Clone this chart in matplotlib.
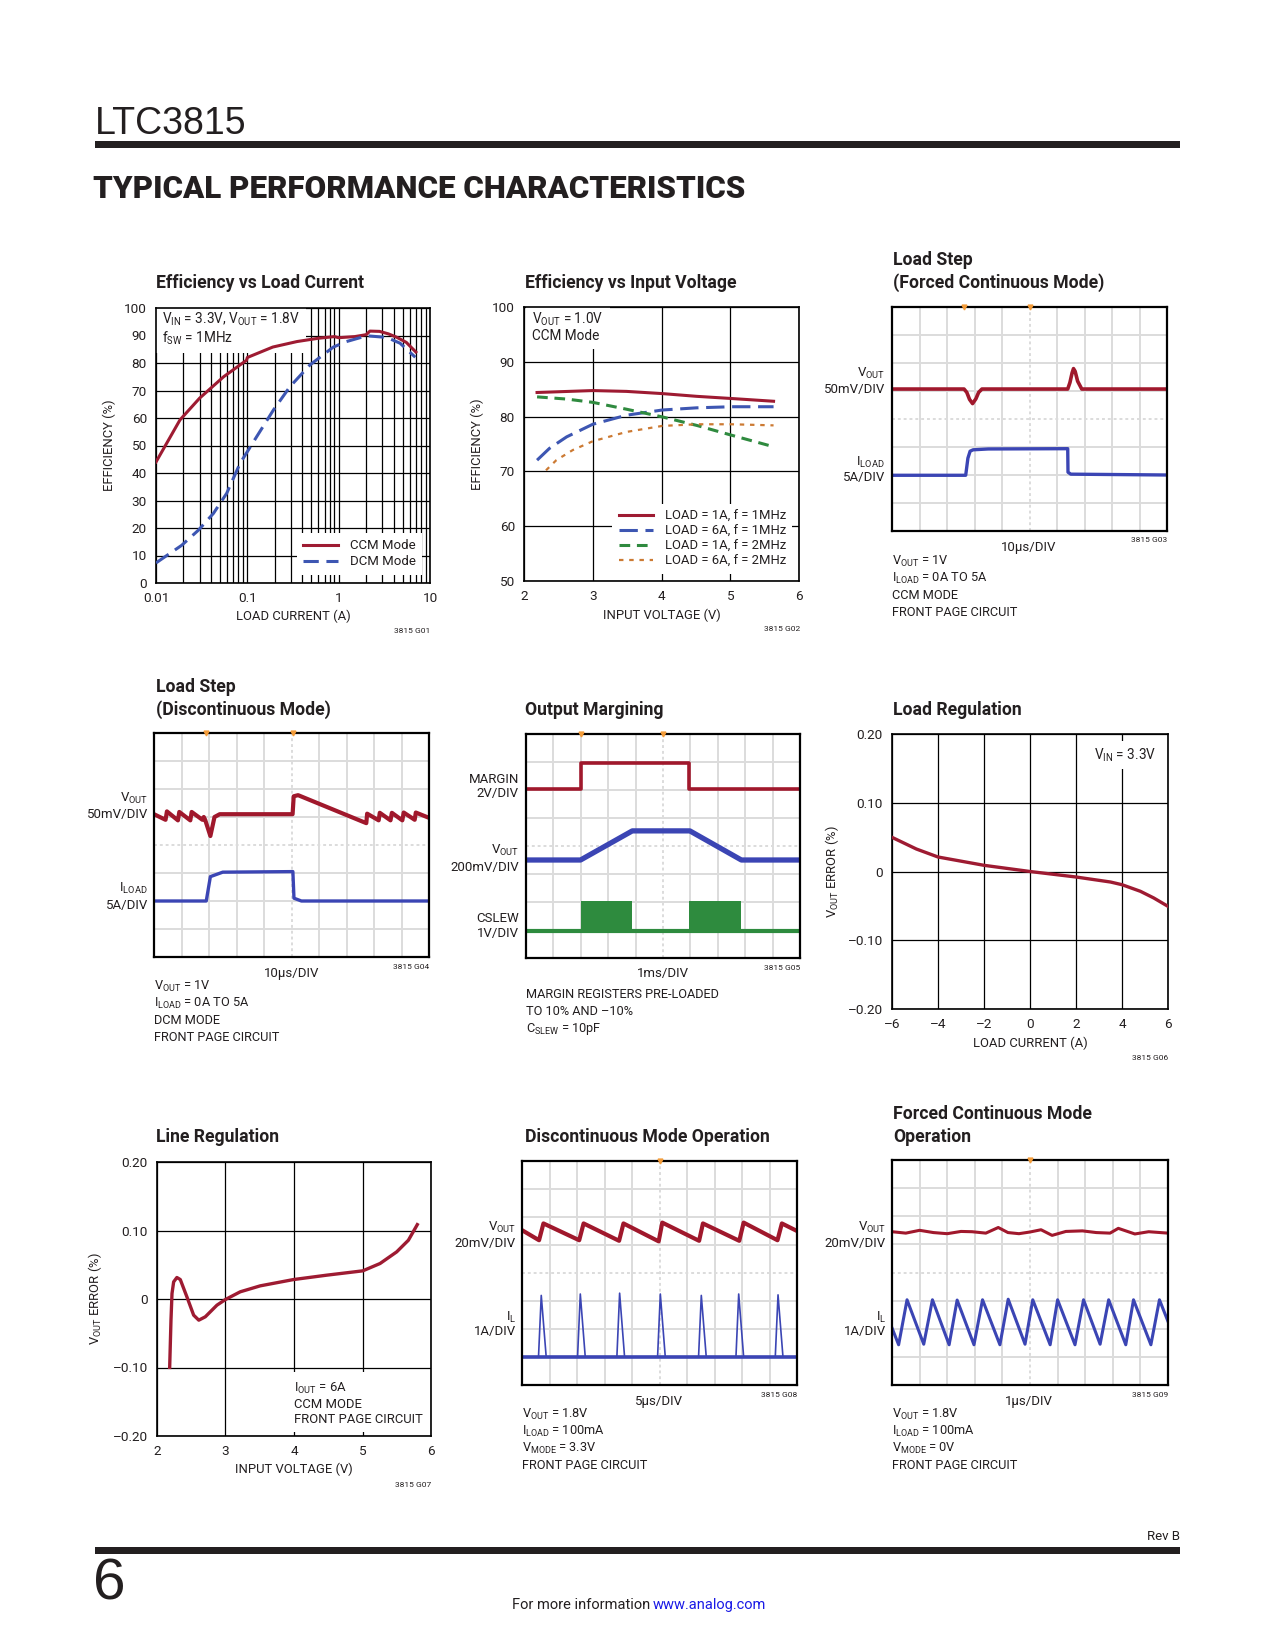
import numpy as np
import matplotlib
matplotlib.use('Agg')
import matplotlib.pyplot as plt
from matplotlib.patches import Rectangle
from matplotlib.ticker import LogLocator, NullFormatter

# ---------------- data ----------------
# G01 Efficiency vs Load Current
ccm_i = [0.01, 0.0183, 0.03, 0.055, 0.098, 0.1, 0.19, 0.35, 0.6, 0.9, 1.0, 1.5, 2.0, 2.2, 2.8, 3.5, 4.3, 5.5, 7.0]
ccm_eff = [44, 59.3, 67.2, 75.0, 81.0, 82.0, 85.8, 87.8, 89.0, 89.6, 89.2, 89.6, 90.3, 91.6, 91.5, 90.6, 89.4, 87.5, 84.0]
dcm_i = [0.01, 0.0191, 0.0291, 0.0425, 0.0594, 0.0832, 0.1265, 0.193, 0.293, 0.485, 0.875, 1.22, 2.03, 3.36, 4.7, 6.9]
dcm_eff = [7.3, 13.7, 19.2, 25.3, 32.6, 43.5, 53.2, 62.9, 71.4, 79.3, 85.8, 87.8, 89.9, 89.3, 87.2, 82.1]
g01_xticks = [0.01, 0.1, 1, 10]
g01_xlabels = ['0.01', '0.1', '1', '10']

# G02 Efficiency vs Input Voltage
vin_a = [2.19, 3.0, 3.49, 4.01, 4.51, 5.02, 5.63]
eff_1a_1m = [84.4, 84.75, 84.6, 84.2, 83.7, 83.3, 82.8]
vin_b = [2.19, 2.37, 2.62, 3.0, 3.49, 4.01, 4.51, 5.02, 5.63]
eff_6a_1m = [72.05, 74.2, 76.3, 78.6, 80.25, 81.2, 81.6, 81.8, 81.8]
vin_c = [2.19, 2.62, 3.0, 3.49, 4.01, 4.51, 5.02, 5.63]
eff_1a_2m = [83.6, 83.2, 82.6, 81.35, 79.95, 78.4, 76.6, 74.5]
vin_d = [2.32, 2.47, 2.71, 3.0, 3.49, 4.01, 4.51, 5.02, 5.63]
eff_6a_2m = [70.2, 72.05, 73.9, 75.5, 77.2, 78.3, 78.6, 78.6, 78.4]
g02_labels = ['LOAD = 1A, f = 1MHz', 'LOAD = 6A, f = 1MHz', 'LOAD = 1A, f = 2MHz', 'LOAD = 6A, f = 2MHz']

# G03 Load step, forced continuous (scope divisions)
g03_vout_t = [0, 2.62, 2.72, 2.82, 2.93, 3.05, 3.15, 3.27, 6.39, 6.47, 6.55, 6.6, 6.66, 6.75, 6.9, 10]
g03_vout_v = [5.07, 5.07, 4.95, 4.7, 4.55, 4.72, 4.95, 5.07, 5.07, 5.3, 5.65, 5.8, 5.7, 5.35, 5.07, 5.07]
g03_iload_t = [0, 2.68, 2.76, 2.84, 2.95, 3.5, 6.39, 6.40, 6.5, 10]
g03_iload_v = [1.99, 1.99, 2.6, 2.85, 2.9, 2.93, 2.94, 2.1, 2.03, 2.0]
g03_trig = [2.6, 5.0]

# G04 Load step, discontinuous
g04_vout_t = [0, 0.42, 0.47, 0.87, 0.92, 1.32, 1.37, 1.76, 1.81, 1.86, 2.05, 2.2, 2.39, 5.04, 5.08, 5.24,
              7.72, 7.75, 8.17, 8.21, 8.6, 8.65, 9.03, 9.08, 9.48, 9.52, 10]
g04_vout_v = [5.10, 4.90, 5.20, 4.88, 5.18, 4.88, 5.18, 4.9, 5.0, 4.9, 4.32, 5.0, 5.1, 5.1, 5.74, 5.78,
              4.78, 5.12, 4.88, 5.15, 4.88, 5.15, 4.88, 5.16, 4.9, 5.16, 4.97]
g04_iload_t = [0, 1.90, 2.05, 2.5, 5.05, 5.09, 5.36, 10]
g04_iload_v = [2.0, 2.0, 2.87, 3.03, 3.05, 2.1, 2.0, 2.0]
g04_trig = [1.88, 5.05]

# G05 Output margining
g05_margin_t = [0, 1.99, 1.99, 5.96, 5.96, 10]
g05_margin_v = [6.04, 6.04, 6.97, 6.97, 6.04, 6.04]
g05_vout_t = [0, 1.99, 3.88, 5.98, 7.86, 10]
g05_vout_v = [3.5, 3.5, 4.54, 4.54, 3.5, 3.5]
g05_cslew_t = [0, 1.99, 1.99, 3.88, 3.88, 5.96, 5.96, 7.86, 7.86, 10]
g05_cslew_v = [0.95, 0.95, 2.05, 2.05, 0.95, 0.95, 2.05, 2.05, 0.95, 0.95]
g05_trig = [1.99, 5.0]

# G06 Load regulation
g06_i = [-6, -4.94, -4.0, -2.0, 0, 2.0, 3.5, 4.0, 4.8, 5.38, 6.0]
g06_err = [0.0497, 0.0327, 0.0211, 0.009, 0.0, -0.008, -0.0153, -0.0192, -0.0288, -0.0385, -0.0507]

# G07 Line regulation
g07_v = [2.185, 2.204, 2.219, 2.243, 2.29, 2.34, 2.437, 2.535, 2.61, 2.705, 2.875, 3.0, 3.215, 3.507,
         3.993, 4.479, 5.004, 5.256, 5.499, 5.67, 5.80]
g07_err = [-0.0999, -0.031, 0.008, 0.025, 0.0314, 0.0284, 0.003, -0.0236, -0.0309, -0.026, -0.009, -0.0007,
           0.0105, 0.0192, 0.0284, 0.0348, 0.0411, 0.0518, 0.0688, 0.0858, 0.1086]
reg_yticks = [-0.2, -0.1, 0, 0.1, 0.2]
reg_ylabels = ['\u20130.20', '\u20130.10', '0', '0.10', '0.20']
g06_xticks = [-6, -4, -2, 0, 2, 4, 6]
g06_xlabels = ['\u20136', '\u20134', '\u20132', '0', '2', '4', '6']

# G08 Discontinuous mode operation
g08_vout_t = [0, 0.62, 0.78, 2.08, 2.24, 3.53, 3.69, 4.97, 5.1, 6.44, 6.58, 7.9, 8.06, 9.29, 9.45, 10]
g08_vout_v = [5.53, 5.17, 5.77, 5.17, 5.77, 5.15, 5.77, 5.13, 5.8, 5.15, 5.77, 5.15, 5.8, 5.17, 5.77, 5.5]
g08_il_t = [0, 0.6, 0.70, 0.88, 2.02, 2.12, 2.30, 3.45, 3.55, 3.73, 4.93, 5.03, 5.21, 6.42, 6.52, 6.70,
            7.78, 7.88, 8.06, 9.21, 9.31, 9.49, 10]
g08_il_v = [1.0, 1.0, 3.2, 1.0, 1.0, 3.25, 1.0, 1.0, 3.28, 1.0, 1.0, 3.25, 1.0, 1.0, 3.2, 1.0,
            1.0, 3.25, 1.0, 1.0, 3.22, 1.0, 1.0]
g08_trig = [5.0]

# G09 Forced continuous mode operation
g09_vout_t = [0, 0.5, 1.0, 1.5, 2.0, 2.5, 2.9, 3.4, 3.85, 4.2, 4.6, 5.0, 5.4, 5.8, 6.3, 6.9, 7.4, 7.9, 8.2, 8.8, 9.3, 10]
g09_vout_v = [5.45, 5.4, 5.5, 5.42, 5.38, 5.46, 5.45, 5.4, 5.6, 5.42, 5.38, 5.44, 5.52, 5.32, 5.46, 5.48,
              5.42, 5.4, 5.57, 5.37, 5.45, 5.4]
g09_il_t = [0, 0.24, 0.545, 1.15, 1.465, 2.07, 2.36, 2.97, 3.28, 3.91, 4.21, 4.82, 5.10, 5.73, 6.0, 6.63,
            6.94, 7.54, 7.85, 8.47, 8.75, 9.38, 9.69, 10]
g09_il_v = [2.03, 1.43, 3.03, 1.45, 3.03, 1.43, 3.02, 1.43, 3.03, 1.43, 3.05, 1.45, 3.03, 1.43, 3.03, 1.43,
            3.03, 1.45, 3.03, 1.43, 3.03, 1.43, 3.03, 2.26]
g09_trig = [5.0]

# ---------------- style ----------------
plt.rcParams['font.family'] = ['Roboto', 'DejaVu Sans']
plt.rcParams['mathtext.fontset'] = 'custom'
plt.rcParams['mathtext.rm'] = 'Roboto'
plt.rcParams['mathtext.it'] = 'Roboto:italic'
plt.rcParams['mathtext.bf'] = 'Roboto:bold'

TXT = '#231F20'
RED = '#9E1B32'
BLUE = '#3D56B2'
GREEN = '#2F8A3F'
ORANGE = '#CC7A33'
SRED = '#A0182C'
SBLUE = '#3B45B4'
SGREEN = '#2E8B3E'
TRIG = '#F39C3A'
GRIDG = '#DCDCDC'

TS = 12.7    # panel title size
NS = 9.2     # notes size
LS = 9.4     # axis label size
KS = 9.7     # tick label size
DS = 9.5     # scope channel labels
AS = 9.8     # in-plot annotation
GS = 6.0     # figure code

W, H = 1275, 1650
fig = plt.figure(figsize=(12.75, 16.5), dpi=100)
fig.patch.set_facecolor('white')


def T(x, y, s, **kw):
    kw.setdefault('color', TXT)
    return fig.text(x / W, 1 - y / H, s, **kw)


def AX(l, t, r, b):
    ax = fig.add_axes([l / W, 1 - b / H, (r - l) / W, (b - t) / H])
    ax._pxrect = (l, t, r, b)
    return ax


def AT(ax, x, y, s, **kw):
    l, t, r, b = ax._pxrect
    kw.setdefault('color', TXT)
    return ax.text((x - l) / (r - l), (b - y) / (b - t), s, transform=ax.transAxes, **kw)


def bar(x0, y0, x1, y1):
    fig.patches.append(Rectangle((x0 / W, 1 - y1 / H), (x1 - x0) / W, (y1 - y0) / H,
                                 transform=fig.transFigure, facecolor='#231F20', edgecolor='none'))


def graph_style(ax):
    ax.set_axisbelow(True)
    for s in ax.spines.values():
        s.set_color('black')
        s.set_linewidth(1.2)
    ax.tick_params(which='both', length=0, labelsize=KS, pad=6.5, colors=TXT)
    ax.grid(True, which='major', color='black', lw=0.9)


def scope_style(ax, trig):
    ax.set_xlim(0, 10)
    ax.set_ylim(0, 8)
    ax.set_xticks(range(1, 10))
    ax.set_yticks(range(1, 8))
    ax.tick_params(length=0, labelbottom=False, labelleft=False)
    ax.set_axisbelow(True)
    ax.grid(True, color=GRIDG, lw=1.4)
    ax.get_xgridlines()[4].set_linestyle((0, (1.5, 1.5)))
    ax.get_ygridlines()[3].set_linestyle((0, (1.5, 1.5)))
    for s in ax.spines.values():
        s.set_color('black')
        s.set_linewidth(1.6)
    ax.plot(trig, [8] * len(trig), ls='none', marker='v', ms=3.5, color=TRIG, clip_on=False, zorder=5)


def notes(x, y0, lines, dy=17.3):
    for k, s in enumerate(lines):
        T(x, y0 + k * dy, s, fontsize=NS, ha='left', va='center')


# ---------------- header / footer ----------------
T(95, 124, 'LTC3815', fontsize=27, family=['Liberation Sans', 'DejaVu Sans'], va='center', ha='left')
bar(95, 141, 1180, 148)
T(93, 189, 'TYPICAL PERFORMANCE CHARACTERISTICS', fontsize=22.5, weight='black', va='center', ha='left',
  color='#231F20')
T(1180, 1536, 'Rev B', fontsize=9.5, ha='right', va='center')
bar(95, 1547, 1180, 1554)
T(93, 1584, '6', fontsize=42, family=['Liberation Sans', 'DejaVu Sans'], ha='left', va='center')
T(650, 1605, 'For more information', fontsize=10.5, ha='right', va='center')
T(653, 1605, 'www.analog.com', fontsize=10.5, ha='left', va='center', color='#1A1AE6')

# ---------------- G01 ----------------
ax1 = AX(156, 308, 430, 583)
ax1.set_xscale('log')
ax1.set_xlim(0.01, 10)
ax1.set_ylim(0, 100)
ax1.xaxis.set_minor_locator(LogLocator(base=10, subs=np.arange(2, 10), numticks=30))
ax1.xaxis.set_minor_formatter(NullFormatter())
ax1.set_xticks(g01_xticks)
ax1.set_xticklabels(g01_xlabels)
ax1.set_yticks(range(0, 101, 10))
graph_style(ax1)
ax1.grid(True, which='minor', axis='x', color='black', lw=0.9)
ax1.plot(ccm_i, ccm_eff, color=RED, lw=2.2, label='CCM Mode', zorder=3)
ax1.plot(dcm_i, dcm_eff, color=BLUE, lw=2.2, dashes=(5, 2.5), label='DCM Mode', zorder=3)
AT(ax1, 162, 329, 'V$_{\\mathrm{IN}}$ = 3.3V, V$_{\\mathrm{OUT}}$ = 1.8V\nf$_{\\mathrm{SW}}$ = 1MHz',
   fontsize=AS, ha='left', va='center', linespacing=1.1, zorder=2,
   bbox=dict(facecolor='white', edgecolor='none', pad=4.5))
leg = ax1.legend(loc='lower right', fontsize=9.5, frameon=True, facecolor='white', edgecolor='none',
                 framealpha=1, fancybox=False, handlelength=2.6, handletextpad=0.9, labelspacing=0.25,
                 borderaxespad=0.6, borderpad=0.5)
for t in leg.get_texts():
    t.set_color(TXT)
T(156 + 274 / 2, 616, 'LOAD CURRENT (A)', fontsize=LS, ha='center', va='center')
T(109, 445, 'EFFICIENCY (%)', fontsize=LS, ha='center', va='center', rotation=90)
T(430, 631, '3815 G01', fontsize=GS, ha='right', va='center')
T(156, 283, 'Efficiency vs Load Current', fontsize=TS, weight='bold', ha='left', va='center')

# ---------------- G02 ----------------
ax2 = AX(524, 307, 799, 581)
ax2.set_xlim(2, 6)
ax2.set_ylim(50, 100)
ax2.set_xticks([2, 3, 4, 5, 6])
ax2.set_yticks([50, 60, 70, 80, 90, 100])
graph_style(ax2)
ax2.plot(vin_a, eff_1a_1m, color=RED, lw=2.2, label=g02_labels[0], zorder=3)
ax2.plot(vin_b, eff_6a_1m, color=BLUE, lw=2.2, dashes=(6, 2.5), label=g02_labels[1], zorder=3)
ax2.plot(vin_c, eff_1a_2m, color=GREEN, lw=2.2, dashes=(3.5, 2.2), label=g02_labels[2], zorder=3)
ax2.plot(vin_d, eff_6a_2m, color=ORANGE, lw=1.6, dashes=(2, 2.6), label=g02_labels[3], zorder=3)
AT(ax2, 532, 327, 'V$_{\\mathrm{OUT}}$ = 1.0V\nCCM Mode', fontsize=AS, ha='left', va='center',
   linespacing=1.05, zorder=2, bbox=dict(facecolor='white', edgecolor='none', pad=4.5))
leg = ax2.legend(loc='lower right', fontsize=9.4, frameon=True, facecolor='white', edgecolor='none',
                 framealpha=1, fancybox=False, handlelength=2.6, handletextpad=0.9, labelspacing=0.15,
                 borderaxespad=0.5, borderpad=0.5)
for t in leg.get_texts():
    t.set_color(TXT)
T(524 + 275 / 2, 615, 'INPUT VOLTAGE (V)', fontsize=LS, ha='center', va='center')
T(477, 444, 'EFFICIENCY (%)', fontsize=LS, ha='center', va='center', rotation=90)
T(800, 629, '3815 G02', fontsize=GS, ha='right', va='center')
T(525, 283, 'Efficiency vs Input Voltage', fontsize=TS, weight='bold', ha='left', va='center')

# ---------------- G03 ----------------
ax3 = AX(892, 307, 1167, 531)
scope_style(ax3, g03_trig)
ax3.plot(g03_vout_t, g03_vout_v, color=SRED, lw=2.6)
ax3.plot(g03_iload_t, g03_iload_v, color=SBLUE, lw=2.4)
T(893, 260, 'Load Step', fontsize=TS, weight='bold', ha='left', va='center')
T(893, 283, '(Forced Continuous Mode)', fontsize=TS, weight='bold', ha='left', va='center')
T(885, 373, 'V$_{\\mathrm{OUT}}$', fontsize=DS, ha='right', va='center')
T(885, 389, '50mV/DIV', fontsize=DS, ha='right', va='center')
T(885, 462, 'I$_{\\mathrm{LOAD}}$', fontsize=DS, ha='right', va='center')
T(885, 478, '5A/DIV', fontsize=DS, ha='right', va='center')
T(1029, 547, '10\u03bcs/DIV', fontsize=DS, ha='center', va='center')
T(1167, 540, '3815 G03', fontsize=GS, ha='right', va='center')
notes(892, 561, ['V$_{\\mathrm{OUT}}$ = 1V', 'I$_{\\mathrm{LOAD}}$ = 0A TO 5A', 'CCM MODE', 'FRONT PAGE CIRCUIT'])

# ---------------- G04 ----------------
ax4 = AX(154, 733, 429, 957)
scope_style(ax4, g04_trig)
ax4.plot(g04_vout_t, g04_vout_v, color=SRED, lw=3.0)
ax4.plot(g04_iload_t, g04_iload_v, color=SBLUE, lw=2.4)
T(156, 687, 'Load Step', fontsize=TS, weight='bold', ha='left', va='center')
T(156, 710, '(Discontinuous Mode)', fontsize=TS, weight='bold', ha='left', va='center')
T(148, 798, 'V$_{\\mathrm{OUT}}$', fontsize=DS, ha='right', va='center')
T(148, 815, '50mV/DIV', fontsize=DS, ha='right', va='center')
T(148, 888, 'I$_{\\mathrm{LOAD}}$', fontsize=DS, ha='right', va='center')
T(148, 905, '5A/DIV', fontsize=DS, ha='right', va='center')
T(292, 974, '10\u03bcs/DIV', fontsize=DS, ha='center', va='center')
T(429, 967, '3815 G04', fontsize=GS, ha='right', va='center')
notes(154, 986, ['V$_{\\mathrm{OUT}}$ = 1V', 'I$_{\\mathrm{LOAD}}$ = 0A TO 5A', 'DCM MODE', 'FRONT PAGE CIRCUIT'])

# ---------------- G05 ----------------
ax5 = AX(526, 734, 800, 958)
scope_style(ax5, g05_trig)
ax5.fill_between(g05_cslew_t, 0.95, g05_cslew_v, color=SGREEN, lw=0)
ax5.plot(g05_cslew_t, [0.95] * len(g05_cslew_t), color=SGREEN, lw=3.0)
ax5.plot(g05_margin_t, g05_margin_v, color=SRED, lw=2.6)
ax5.plot(g05_vout_t, g05_vout_v, color=SBLUE, lw=3.8)
T(525, 710, 'Output Margining', fontsize=TS, weight='bold', ha='left', va='center')
T(519, 779, 'MARGIN', fontsize=DS, ha='right', va='center')
T(519, 794, '2V/DIV', fontsize=DS, ha='right', va='center')
T(519, 850, 'V$_{\\mathrm{OUT}}$', fontsize=DS, ha='right', va='center')
T(519, 867, '200mV/DIV', fontsize=DS, ha='right', va='center')
T(519, 918, 'CSLEW', fontsize=DS, ha='right', va='center')
T(519, 934, '1V/DIV', fontsize=DS, ha='right', va='center')
T(663, 974, '1ms/DIV', fontsize=DS, ha='center', va='center')
T(800, 968, '3815 G05', fontsize=GS, ha='right', va='center')
notes(526, 994, ['MARGIN REGISTERS PRE-LOADED', 'TO 10% AND \u201310%', 'C$_{\\mathrm{SLEW}}$ = 10pF'])

# ---------------- G06 ----------------
ax6 = AX(892, 734, 1168, 1009)
ax6.set_xlim(-6, 6)
ax6.set_ylim(-0.2, 0.2)
ax6.set_xticks(g06_xticks)
ax6.set_xticklabels(g06_xlabels)
ax6.set_yticks(reg_yticks)
ax6.set_yticklabels(reg_ylabels)
graph_style(ax6)
ax6.plot(g06_i, g06_err, color=RED, lw=2.4, zorder=3)
AT(ax6, 1094, 755, 'V$_{\\mathrm{IN}}$ = 3.3V', fontsize=AS, ha='left', va='center', zorder=2,
   bbox=dict(facecolor='white', edgecolor='none', pad=4))
T(893, 710, 'Load Regulation', fontsize=TS, weight='bold', ha='left', va='center')
T(1030, 1043, 'LOAD CURRENT (A)', fontsize=LS, ha='center', va='center')
T(832, 872, 'V$_{\\mathrm{OUT}}$ ERROR (%)', fontsize=LS, ha='center', va='center', rotation=90)
T(1168, 1058, '3815 G06', fontsize=GS, ha='right', va='center')

# ---------------- G07 ----------------
ax7 = AX(157, 1162, 431, 1436)
ax7.set_xlim(2, 6)
ax7.set_ylim(-0.2, 0.2)
ax7.set_xticks([2, 3, 4, 5, 6])
ax7.set_yticks(reg_yticks)
ax7.set_yticklabels(reg_ylabels)
graph_style(ax7)
ax7.plot(g07_v, g07_err, color=RED, lw=2.4, zorder=3)
AT(ax7, 294, 1403, 'I$_{\\mathrm{OUT}}$ = 6A\nCCM MODE\nFRONT PAGE CIRCUIT', fontsize=9.4, ha='left',
   va='center', linespacing=1.2, zorder=2, bbox=dict(facecolor='white', edgecolor='none', pad=5))
T(156, 1137, 'Line Regulation', fontsize=TS, weight='bold', ha='left', va='center')
T(294, 1469, 'INPUT VOLTAGE (V)', fontsize=LS, ha='center', va='center')
T(95, 1299, 'V$_{\\mathrm{OUT}}$ ERROR (%)', fontsize=LS, ha='center', va='center', rotation=90)
T(431, 1485, '3815 G07', fontsize=GS, ha='right', va='center')

# ---------------- G08 ----------------
ax8 = AX(522, 1161, 797, 1385)
scope_style(ax8, g08_trig)
ax8.plot(g08_vout_t, g08_vout_v, color=SRED, lw=3.0)
ax8.plot(g08_il_t, g08_il_v, color=SBLUE, lw=1.2)
ax8.plot([0, 10], [1.0, 1.0], color=SBLUE, lw=2.6)
T(525, 1137, 'Discontinuous Mode Operation', fontsize=TS, weight='bold', ha='left', va='center')
T(516, 1227, 'V$_{\\mathrm{OUT}}$', fontsize=DS, ha='right', va='center')
T(516, 1243, '20mV/DIV', fontsize=DS, ha='right', va='center')
T(516, 1317, 'I$_{\\mathrm{L}}$', fontsize=DS, ha='right', va='center')
T(516, 1332, '1A/DIV', fontsize=DS, ha='right', va='center')
T(659, 1401, '5\u03bcs/DIV', fontsize=DS, ha='center', va='center')
T(797, 1395, '3815 G08', fontsize=GS, ha='right', va='center')
notes(522, 1414, ['V$_{\\mathrm{OUT}}$ = 1.8V', 'I$_{\\mathrm{LOAD}}$ = 100mA', 'V$_{\\mathrm{MODE}}$ = 3.3V',
                  'FRONT PAGE CIRCUIT'])

# ---------------- G09 ----------------
ax9 = AX(892, 1160, 1168, 1385)
scope_style(ax9, g09_trig)
ax9.plot(g09_vout_t, g09_vout_v, color=SRED, lw=2.2)
ax9.plot(g09_il_t, g09_il_v, color=SBLUE, lw=2.2)
T(893, 1114, 'Forced Continuous Mode', fontsize=TS, weight='bold', ha='left', va='center')
T(893, 1137, 'Operation', fontsize=TS, weight='bold', ha='left', va='center')
T(886, 1227, 'V$_{\\mathrm{OUT}}$', fontsize=DS, ha='right', va='center')
T(886, 1243, '20mV/DIV', fontsize=DS, ha='right', va='center')
T(886, 1317, 'I$_{\\mathrm{L}}$', fontsize=DS, ha='right', va='center')
T(886, 1332, '1A/DIV', fontsize=DS, ha='right', va='center')
T(1029, 1401, '1\u03bcs/DIV', fontsize=DS, ha='center', va='center')
T(1168, 1395, '3815 G09', fontsize=GS, ha='right', va='center')
notes(892, 1414, ['V$_{\\mathrm{OUT}}$ = 1.8V', 'I$_{\\mathrm{LOAD}}$ = 100mA', 'V$_{\\mathrm{MODE}}$ = 0V',
                  'FRONT PAGE CIRCUIT'])

fig.savefig('out.png', dpi=100, facecolor='white')
